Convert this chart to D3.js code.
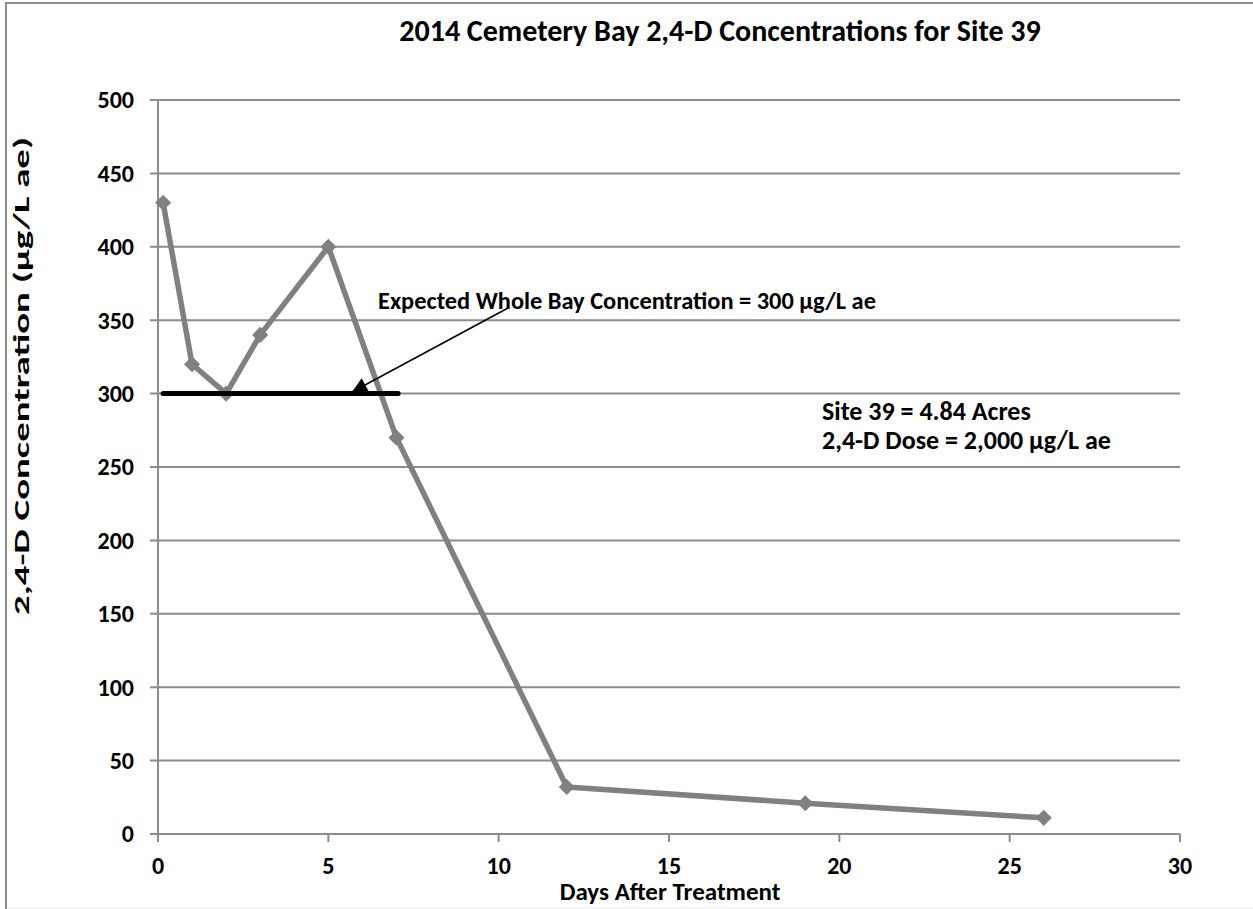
<!DOCTYPE html>
<html>
<head>
<meta charset="utf-8">
<script src="https://cdn.jsdelivr.net/npm/d3@7"></script>
<style>
  html, body { margin: 0; padding: 0; background: #fff; }
  svg { display: block; font-family: Carlito, "Liberation Sans", Arial, sans-serif; font-weight: bold; }
</style>
</head>
<body>
<svg id="chart" width="1253" height="909"></svg>
<script>
// Sample days after treatment and measured 2,4-D concentrations (µg/L ae)
const days = [0.15, 1, 2, 3, 5, 7, 12, 19, 26];
const concentrations = [430, 320, 300, 340, 400, 270, 32, 21, 11];

// Axis ticks
const xTicks = [0, 5, 10, 15, 20, 25, 30];
const yTicks = [0, 50, 100, 150, 200, 250, 300, 350, 400, 450, 500];

// Expected whole-bay concentration reference line
const expectedValue = 300;
const expectedSpan = [0.15, 7.05];

const titleText = "2014 Cemetery Bay 2,4-D Concentrations for Site 39";
const xTitle = "Days After Treatment";
const yTitle = "2,4-D Concentration (µg/L ae)";
const expectedLabel = "Expected Whole Bay Concentration = 300 µg/L ae";
const siteNotes = ["Site 39 = 4.84 Acres", "2,4-D Dose = 2,000 µg/L ae"];

const svg = d3.select("#chart");
const grid = "#8c8c8c";

const plotLeft = 158, plotRight = 1180, plotTop = 100, plotBottom = 834;
const x = d3.scaleLinear().domain([0, 30]).range([plotLeft, plotRight]);
const y = d3.scaleLinear().domain([0, 500]).range([plotBottom, plotTop]);

// chart frame
svg.append("rect")
  .attr("x", 6).attr("y", 3).attr("width", 1260).attr("height", 940)
  .attr("fill", "none").attr("stroke", grid).attr("stroke-width", 2);
svg.append("line")
  .attr("x1", 7).attr("x2", 1253).attr("y1", 908).attr("y2", 908)
  .attr("stroke", "#ececec").attr("stroke-width", 1);

// horizontal gridlines with left ticks
svg.append("g")
  .selectAll("line")
  .data(yTicks)
  .join("line")
  .attr("x1", plotLeft - 8).attr("x2", plotRight)
  .attr("y1", d => y(d)).attr("y2", d => y(d))
  .attr("stroke", grid).attr("stroke-width", 2);

// y axis line
svg.append("line")
  .attr("x1", plotLeft).attr("x2", plotLeft)
  .attr("y1", plotTop).attr("y2", plotBottom)
  .attr("stroke", grid).attr("stroke-width", 2);

// x tick marks
svg.append("g")
  .selectAll("line")
  .data(xTicks)
  .join("line")
  .attr("x1", d => x(d)).attr("x2", d => x(d))
  .attr("y1", plotBottom).attr("y2", plotBottom + 8)
  .attr("stroke", grid).attr("stroke-width", 2);

// y tick labels
svg.append("g")
  .selectAll("text")
  .data(yTicks)
  .join("text")
  .attr("x", 134).attr("y", d => y(d))
  .attr("dy", "0.35em")
  .attr("text-anchor", "end")
  .attr("font-size", 24)
  .text(d => d);

// x tick labels
svg.append("g")
  .selectAll("text")
  .data(xTicks)
  .join("text")
  .attr("x", d => x(d)).attr("y", 866)
  .attr("dy", "0.35em")
  .attr("text-anchor", "middle")
  .attr("font-size", 24)
  .text(d => d);

// titles
svg.append("text")
  .attr("x", 720).attr("y", 30).attr("dy", "0.35em")
  .attr("text-anchor", "middle").attr("font-size", 30)
  .text(titleText);

svg.append("text")
  .attr("x", 670).attr("y", 891).attr("dy", "0.35em")
  .attr("text-anchor", "middle").attr("font-size", 25)
  .text(xTitle);

svg.append("text")
  .attr("transform", "translate(21,376) rotate(-90)")
  .attr("dy", "0.35em")
  .attr("text-anchor", "middle").attr("font-size", 23)
  .attr("textLength", 478)
  .attr("lengthAdjust", "spacingAndGlyphs")
  .text(yTitle);

// data series
const line = d3.line().x((d, i) => x(days[i])).y(d => y(d));
svg.append("path")
  .datum(concentrations)
  .attr("d", line)
  .attr("fill", "none")
  .attr("stroke", "#808080")
  .attr("stroke-width", 5.5)
  .attr("stroke-linejoin", "round");

svg.append("g")
  .selectAll("path")
  .data(concentrations)
  .join("path")
  .attr("transform", (d, i) => `translate(${x(days[i])},${y(d)})`)
  .attr("d", d3.symbol(d3.symbolDiamond2, 165))
  .attr("fill", "#808080");

// expected concentration line
svg.append("line")
  .attr("x1", x(expectedSpan[0])).attr("x2", x(expectedSpan[1]))
  .attr("y1", y(expectedValue)).attr("y2", y(expectedValue))
  .attr("stroke", "#000").attr("stroke-width", 5)
  .attr("stroke-linecap", "round");

// arrow from label to the line
svg.append("defs").append("marker")
  .attr("id", "arrowhead")
  .attr("viewBox", "0 0 10 10")
  .attr("refX", 10).attr("refY", 5)
  .attr("markerWidth", 17).attr("markerHeight", 15)
  .attr("markerUnits", "userSpaceOnUse")
  .attr("orient", "auto")
  .append("path")
  .attr("d", "M0,0 L10,5 L0,10 Z")
  .attr("fill", "#000");

svg.append("line")
  .attr("x1", 508).attr("y1", 308)
  .attr("x2", 352).attr("y2", 392)
  .attr("stroke", "#000").attr("stroke-width", 1.5)
  .attr("marker-end", "url(#arrowhead)");

svg.append("text")
  .attr("x", 378).attr("y", 300).attr("dy", "0.35em")
  .attr("font-size", 24.4)
  .text(expectedLabel);

svg.append("g")
  .selectAll("text")
  .data(siteNotes)
  .join("text")
  .attr("x", 822).attr("y", (d, i) => 411 + i * 29)
  .attr("dy", "0.35em")
  .attr("font-size", 26)
  .text(d => d);
</script>
</body>
</html>
